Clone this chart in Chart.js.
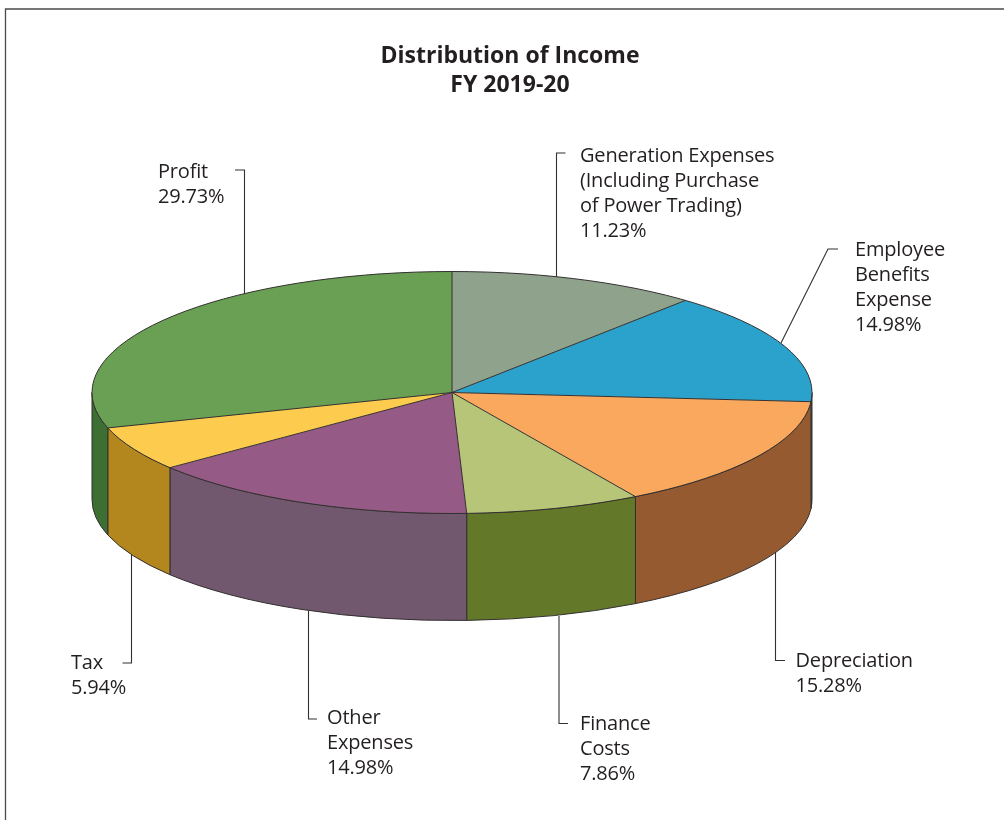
<!DOCTYPE html>
<html>
<head>
<meta charset="utf-8">
<style>html,body{margin:0;padding:0;background:#fff}canvas{display:block}</style>
<script src="https://cdn.jsdelivr.net/npm/chart.js@4"></script>
</head>
<body>
<canvas id="c" width="1004" height="820"></canvas>
<script>
// Data
const categories = ["Generation Expenses (Including Purchase of Power Trading)", "Employee Benefits Expense", "Depreciation", "Finance Costs", "Other Expenses", "Tax", "Profit"];
const values = [11.23, 14.98, 15.28, 7.86, 14.98, 5.94, 29.73];
const labelLines = [
  ["Generation Expenses", "(Including Purchase", "of Power Trading)"],
  ["Employee", "Benefits", "Expense"],
  ["Depreciation"],
  ["Finance", "Costs"],
  ["Other", "Expenses"],
  ["Tax"],
  ["Profit"]
];
const titleLines = ["Distribution of Income", "FY 2019-20"];
const topColors = ["#8fa28c", "#2ba2cc", "#f9a85e", "#b6c577", "#955a85", "#fdcc4f", "#6aa054"];
const wallColors = ["#66755f", "#1d7a9a", "#955a30", "#64782a", "#71586e", "#b3861e", "#3c6f31"];

// Layout
const CX = 452, CY = 392.5, RX = 360, RY = 121, DEPTH = 107;
const labelAnchors = [[580,162],[855,256],[795.5,667],[580,730],[327,724],[71,669],[158,178]];
const leaders = [
  [[565.5,153],[556.5,153],[556.5,277]],
  [[838,249],[828,249],[781,343]],
  [[785,660.5],[775.5,660.5],[775.5,552]],
  [[568,723.5],[559,723.5],[559,616]],
  [[317,719],[308.5,719],[308.5,611]],
  [[122.5,663],[131.5,663],[131.5,555]],
  [[235,170],[244.5,170],[244.5,294]]
];
const FONT = '"Open Sans", "Noto Sans", sans-serif';
const INK = "#231f20", LINE = "#33302f";

const pie3d = {
  id: "pie3d",
  afterLayout(chart) {
    const t = chart.titleBlock, shift = 510 - (t.left + t.right) / 2;
    t.left += shift; t.right += shift;
  },
  beforeDatasetsDraw(chart) {
    const ctx = chart.ctx, arcs = chart.getDatasetMeta(0).data;
    ctx.save();
    // frame
    ctx.strokeStyle = "#4a4a4a"; ctx.lineWidth = 1.3;
    ctx.beginPath(); ctx.moveTo(1004, 9); ctx.lineTo(5.5, 9); ctx.lineTo(5.5, 820); ctx.stroke();
    // leader lines
    ctx.strokeStyle = LINE; ctx.lineWidth = 1.1;
    leaders.forEach(p => {
      ctx.beginPath();
      p.forEach((q, i) => i ? ctx.lineTo(q[0], q[1]) : ctx.moveTo(q[0], q[1]));
      ctx.stroke();
    });
    // outer walls: only the front half of the rim shows
    arcs.forEach((a, i) => {
      const s = Math.max(a.startAngle, 0), e = Math.min(a.endAngle, Math.PI);
      if (e <= s) return;
      ctx.beginPath();
      ctx.ellipse(CX, CY, RX, RY, 0, s, e);
      ctx.ellipse(CX, CY + DEPTH, RX, RY, 0, e, s, true);
      ctx.closePath();
      ctx.fillStyle = wallColors[i];
      ctx.fill();
      ctx.strokeStyle = LINE; ctx.lineWidth = 1;
      ctx.stroke();
    });
    ctx.restore();
  },
  beforeDatasetDraw(chart) {
    const ctx = chart.ctx, a = chart.getDatasetMeta(0).data[0], r = a.outerRadius;
    ctx.save();
    ctx.translate(CX, CY);
    ctx.scale(RX / r, RY / r);
    ctx.translate(-a.x, -a.y);
  },
  afterDatasetDraw(chart) {
    chart.ctx.restore();
  },
  afterDatasetsDraw(chart) {
    const ctx = chart.ctx, arcs = chart.getDatasetMeta(0).data;
    ctx.save();
    ctx.strokeStyle = LINE; ctx.lineWidth = 1;
    arcs.forEach(a => {
      ctx.beginPath();
      ctx.moveTo(CX, CY);
      ctx.lineTo(CX + RX * Math.cos(a.startAngle), CY + RY * Math.sin(a.startAngle));
      ctx.stroke();
    });
    ctx.beginPath(); ctx.ellipse(CX, CY, RX, RY, 0, 0, Math.PI * 2); ctx.stroke();
    // labels
    ctx.fillStyle = INK;
    ctx.font = "400 20px " + FONT;
    ctx.textAlign = "left"; ctx.textBaseline = "alphabetic";
    if ("letterSpacing" in ctx) ctx.letterSpacing = "-0.18px";
    labelLines.forEach((ls, i) => {
      const [x, y] = labelAnchors[i];
      ls.concat([values[i].toFixed(2) + "%"]).forEach((t, j) => ctx.fillText(t, x, y + j * 25));
    });
    ctx.restore();
  }
};

new Chart(document.getElementById("c"), {
  type: "pie",
  data: {
    labels: categories,
    datasets: [{ data: values, backgroundColor: topColors, borderWidth: 0, clip: false }]
  },
  options: {
    responsive: false,
    animation: false,
    events: [],
    layout: { padding: { top: 42, left: 92, right: 192, bottom: 10 } },
    plugins: {
      legend: { display: false },
      tooltip: { enabled: false },
      title: {
        display: true,
        text: titleLines,
        color: INK,
        font: { family: FONT, size: 23, weight: "700", lineHeight: 1.26 },
        padding: { top: 0, bottom: 10 }
      }
    }
  },
  plugins: [pie3d]
});
</script>
</body>
</html>
